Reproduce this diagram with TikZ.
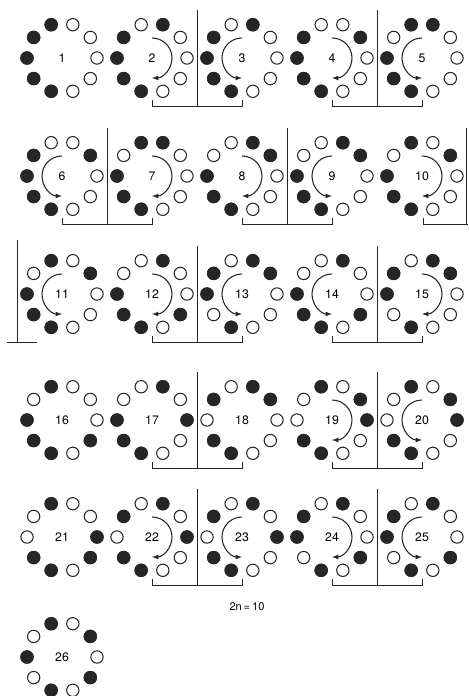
\documentclass[tikz,border=0pt]{standalone}
\usepackage{fontspec}
\setsansfont{TeX Gyre Heros}
\begin{document}
\begin{tikzpicture}[x=0.03cm, y=-0.03cm,
    hole/.style={circle, draw=black!85, line width=0.9pt, minimum size=0.37cm, inner sep=0pt},
    bead/.style={circle, draw=black!85, fill=black!85, line width=0.9pt, minimum size=0.37cm, inner sep=0pt},
    num/.style={font=\sffamily\fontsize{10.5}{12}\selectfont, inner sep=0pt},
    turn/.style={-latex, line width=0.9pt, black!85},
    rule/.style={line width=0.8pt, black!85}]
    \useasboundingbox (0,0) rectangle (468,696);

    % Draw rings: number/x/y/turn/dark beads
    \foreach \n/\cx/\cy/\dir/\full in {
        1/62/58/0/{108,144,180,216,252},
        2/152/58/1/{72,144,180,216,252},
        3/242/58/-1/{72,144,180,216,252},
        4/332/58/1/{36,144,180,216,252},
        5/422/58/-1/{72,108,180,216,252},
        6/62/176/-1/{36,144,180,216,252},
        7/152/176/1/{72,108,180,216,252},
        8/242/176/1/{36,72,180,216,252},
        9/332/176/-1/{36,72,180,216,252},
        10/422/176/1/{36,108,180,216,252},
        11/62/294/-1/{36,108,180,216,252},
        12/152/294/1/{72,180,216,252,324},
        13/242/294/-1/{36,72,144,180,252},
        14/332/294/-1/{72,180,216,252,324},
        15/422/294/1/{36,72,144,180,252},
        16/62/420/0/{108,180,216,252,324},
        17/152/420/0/{0,72,180,216,252},
        18/242/420/0/{36,72,144,216,252},
        19/332/420/1/{0,36,108,216,252},
        20/422/420/-1/{0,36,108,216,252},
        21/62/537/0/{0,108,216,252,324},
        22/152/537/1/{0,72,144,216,252},
        23/242/537/-1/{0,72,144,216,252},
        24/332/537/1/{72,144,180,252,324},
        25/422/537/-1/{72,144,180,252,324},
        26/62/657/0/{36,108,180,252,324}}{
      \foreach \a in {0,36,...,324}
        \node[hole] (b\n-\a) at ({\cx+35*cos(\a)},{\cy-35*sin(\a)}) {};
      \foreach \a in \full
        \node[bead] (b\n-\a) at ({\cx+35*cos(\a)},{\cy-35*sin(\a)}) {};
      \node[num] (n\n) at (\cx,\cy) {\n};
      \ifnum\dir=0\relax\else
        \draw[turn] (\cx,\cy-20) arc[start angle=-90, end angle={-90+180*\dir}, radius=20];
      \fi
    }

    % Mirror lines with brackets
    \foreach \lx/\cy in {197/58, 377/58, 107/176, 287/176, 197/294, 377/294,
                         197/420, 377/420, 197/537, 377/537} {
      \draw[rule] (\lx,\cy-48) -- (\lx,\cy+48);
      \draw[rule] (\lx-45,\cy+42) -- (\lx-45,\cy+48) -- (\lx+45,\cy+48) -- (\lx+45,\cy+42);
    }
    \draw[rule] (466,128) -- (466,224);
    \draw[rule] (423,218) -- (423,224) -- (468,224);
    \draw[rule] (17,240) -- (17,342);
    \draw[rule] (7,342) -- (37,342);

    % Label
    \node[font=\sffamily\fontsize{9.5}{11}\selectfont] (size) at (247,607) {2n\,=\,10};
\end{tikzpicture}
\end{document}
